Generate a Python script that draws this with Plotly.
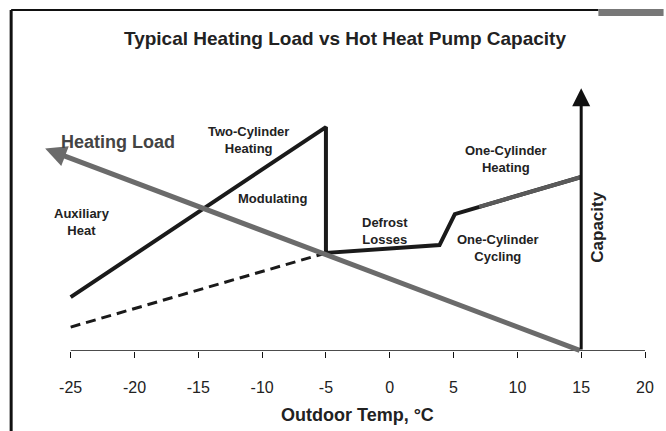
import plotly.graph_objects as go

# outdoor temperature (deg C) and relative capacity / load units
load_x = [15, -27]
load_y = [0, 77]

cap_x = [-25, -5, -5, 3.9, 5.1, 15]
cap_y = [20.5, 85.2, 37.3, 40.3, 52.1, 66.2]

one_cyl_x = [7, 15]
one_cyl_y = [54.8, 66.2]

aux_x = [-25, -5]
aux_y = [9.1, 37.3]

capacity_axis_x = [15, 15]
capacity_axis_y = [0, 100]

tick_vals = [-25, -20, -15, -10, -5, 0, 5, 10, 15, 20]
tick_text = ["-25", "-20", "-15", "-10", "-5", "0", "5", "10", "15", "20"]

labels = ["<b>Two-Cylinder<br>Heating</b>", "<b>Auxiliary<br>Heat</b>", "<b>Modulating</b>",
          "<b>Defrost<br>Losses</b>", "<b>One-Cylinder<br>Heating</b>", "<b>One-Cylinder<br>Cycling</b>"]
label_x = [-11.1, -24.1, -9.15, -0.36, 9.1, 8.5]
label_y = [80.3, 49.1, 58.2, 45.6, 73.0, 39.2]

FONT = "Liberation Sans, Arial, sans-serif"

fig = go.Figure()
fig.add_trace(go.Scatter(x=aux_x, y=aux_y, mode="lines",
                         line=dict(color="#1a1a1a", width=3, dash="10px,6px")))
fig.add_trace(go.Scatter(x=cap_x, y=cap_y, mode="lines",
                         line=dict(color="#1a1a1a", width=4)))
fig.add_trace(go.Scatter(x=one_cyl_x, y=one_cyl_y, mode="lines",
                         line=dict(color="#5a5a5a", width=4)))

# heating load arrow (gray) and capacity axis arrow (black)
fig.add_annotation(x=load_x[1], y=load_y[1], ax=load_x[0], ay=load_y[0],
                   xref="x", yref="y", axref="x", ayref="y", text="", showarrow=True,
                   arrowhead=2, arrowsize=0.85, arrowwidth=5, arrowcolor="#6b6b6b")
fig.add_annotation(x=capacity_axis_x[1], y=capacity_axis_y[1], ax=capacity_axis_x[0], ay=capacity_axis_y[0],
                   xref="x", yref="y", axref="x", ayref="y", text="", showarrow=True,
                   arrowhead=2, arrowsize=1.2, arrowwidth=3, arrowcolor="#111111")

for t, lx, ly in zip(labels, label_x, label_y):
    fig.add_annotation(x=lx, y=ly, text=t, showarrow=False,
                       font=dict(family=FONT, size=13, color="#222222"))

fig.add_annotation(x=-21.3, y=79.5, text="<b>Heating Load</b>", showarrow=False,
                   font=dict(family=FONT, size=18, color="#444444"))
fig.add_annotation(x=16.3, y=47.2, text="<b>Capacity</b>", showarrow=False, textangle=-90,
                   font=dict(family=FONT, size=17, color="#222222"))
fig.add_annotation(x=0.535, y=-0.232, xref="paper", yref="paper", text="<b>Outdoor Temp, °C</b>",
                   showarrow=False, yanchor="middle",
                   font=dict(family=FONT, size=18, color="#222222"))

# x axis line from -25 to 20
fig.add_shape(type="line", x0=tick_vals[0], x1=tick_vals[-1], y0=0, y1=0, xref="x", yref="y",
              line=dict(color="#111111", width=1.5))

# scanned frame
fig.add_shape(type="line", xref="paper", yref="paper", x0=-0.024, x1=-0.024, y0=1.2355, y1=-0.3,
              line=dict(color="#111111", width=3))
fig.add_shape(type="line", xref="paper", yref="paper", x0=-0.024, x1=0.9247, y0=1.2355, y1=1.2355,
              line=dict(color="#111111", width=2))
fig.add_shape(type="line", xref="paper", yref="paper", x0=0.9247, x1=1.03, y0=1.2264, y1=1.2264,
              line=dict(color="#777777", width=7))

fig.update_layout(
    width=666, height=431,
    margin=dict(l=26, r=16, t=75, b=80),
    plot_bgcolor="white", paper_bgcolor="white",
    showlegend=False,
    title=dict(text="<b>Typical Heating Load vs Hot Heat Pump Capacity</b>",
               x=0.518, xanchor="center", y=0.91, yanchor="middle",
               font=dict(family=FONT, size=19, color="#222222")),
    font=dict(family=FONT, color="#222222"),
)
fig.update_xaxes(range=[-28.5, 20], tickvals=tick_vals, ticktext=tick_text, ticks="outside", ticklen=6,
                 tickcolor="#111111", tickwidth=1, showline=False, showgrid=False, zeroline=False,
                 ticklabelstandoff=16, tickfont=dict(family=FONT, size=16, color="#222222"))
fig.update_yaxes(range=[0, 105], visible=False, showgrid=False, zeroline=False)

# drop the default page margin so the figure sits at the window origin
fig.write_html("out.html", config={"displayModeBar": False},
               post_script="document.body.style.margin='0';")
